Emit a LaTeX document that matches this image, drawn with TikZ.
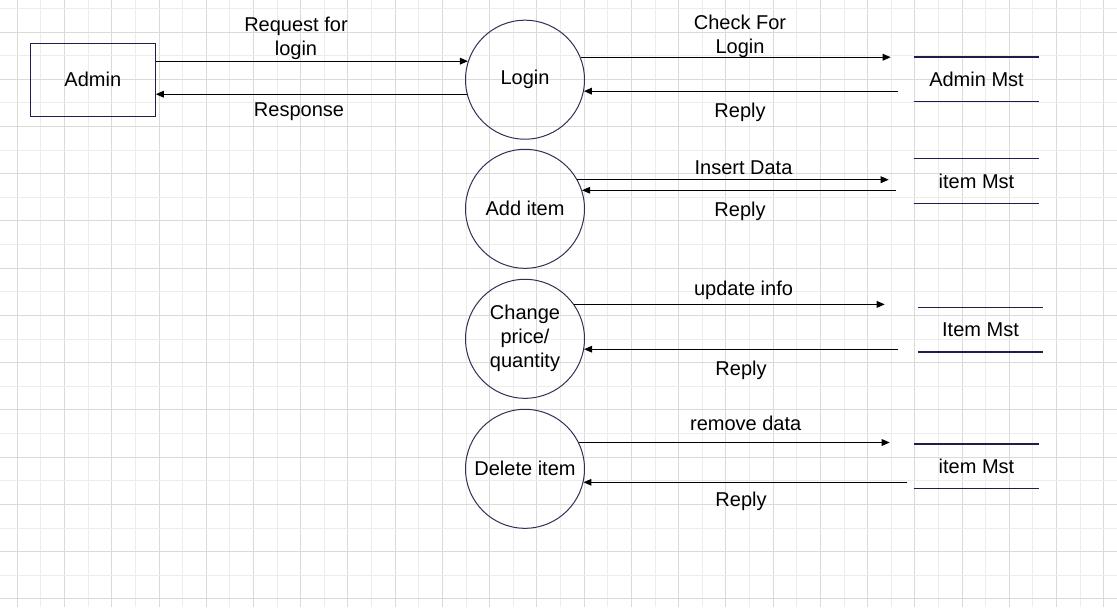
\documentclass[tikz,border=0pt]{standalone}
\usepackage{fontspec}
\setmainfont{Liberation Sans}
\usetikzlibrary{arrows.meta}
\definecolor{gridmajor}{HTML}{DADADA}
\definecolor{gridminor}{HTML}{ECECEC}
\definecolor{navy}{HTML}{1E1E4A}
\begin{document}
\begin{tikzpicture}[x=0.75pt,y=-0.75pt,
    font=\fontsize{15}{18}\selectfont,
    flow/.style={line width=0.75pt,-{Triangle[length=6pt,width=5pt]}},
    process/.style={circle,draw=navy!80!gray,line width=0.75pt,minimum size=89.25pt,inner sep=0pt,align=center},
    entity/.style={rectangle,draw=navy,line width=0.75pt,minimum width=93.75pt,minimum height=54.75pt},
    storeline/.style={draw=navy,line width=1pt},
    store/.style={minimum width=93.75pt,minimum height=33pt,inner sep=0pt,
      append after command={(\tikzlastnode.north west) edge[storeline] (\tikzlastnode.north east)
        (\tikzlastnode.south west) edge[storeline] (\tikzlastnode.south east)}}]
    \useasboundingbox[fill=white] (0,0) rectangle (1117,607);
    \foreach \k in {0,...,46}{
      \ifodd\k \def\gc{gridminor}\else \def\gc{gridmajor}\fi
      \draw[\gc,line width=0.75pt] ({17.3+23.62*\k},0) -- ({17.3+23.62*\k},607);
    }
    \foreach \k in {0,...,25}{
      \ifodd\k \def\gc{gridmajor}\else \def\gc{gridminor}\fi
      \draw[\gc,line width=0.75pt] (0,{8.4+23.62*\k}) -- (1117,{8.4+23.62*\k});
    }
    \node[entity] (admin) at (92.8,79.8) {Admin};
    \node[process] (login) at (525,79.7) {Login};
    \node[process] (additem) at (525,208.8) {Add item};
    \node[process] (change) at (525,338.8) {Change\\price/\\quantity};
    \node[process] (delitem) at (525,468.8) {Delete item};
    \node[store] (adminmst) at (976.5,79.4) {Admin Mst};
    \node[store] (itemmst) at (976.5,181) {item Mst};
    \node[store] (itemmstb) at (980.5,329.7) {Item Mst};
    \node[store] (itemmstc) at (976.5,466.3) {item Mst};
    \draw[flow] (admin.east |- login.162) -- (login.162);
    \draw[flow] (login.194) -- (login.194 -| admin.east);
    \draw[flow,shorten >=17.25pt] (login.22) -- (login.22 -| adminmst.west);
    \draw[flow,shorten <=11.6pt] (login.-11 -| adminmst.west) -- (login.-11);
    \draw[flow,shorten >=18.75pt] (additem.29) -- (additem.29 -| itemmst.west);
    \draw[flow,shorten <=13.2pt] (additem.18 -| itemmst.west) -- (additem.18);
    \draw[flow,shorten >=24.75pt] (change.35) -- (change.35 -| itemmstb.west);
    \draw[flow,shorten <=14.6pt] (change.-10 -| itemmstb.west) -- (change.-10);
    \draw[flow,shorten >=18pt] (delitem.26) -- (delitem.26 -| itemmstc.west);
    \draw[flow,shorten <=4.8pt] (delitem.-13 -| itemmstc.west) -- (delitem.-13);
    \node[align=center] (reqlbl) at (296,38) {Request for\\login};
    \node (resplbl) at (299,112) {Response};
    \node[align=center] (chklbl) at (740,36) {Check For\\Login};
    \node (replya) at (740,112) {Reply};
    \node (inslbl) at (743.5,167.5) {Insert Data};
    \node (replyb) at (740,211) {Reply};
    \node (updlbl) at (743.5,290) {update info};
    \node (replyc) at (741,370.5) {Reply};
    \node (remlbl) at (745.7,423.5) {remove data};
    \node (replyd) at (741,501) {Reply};
\end{tikzpicture}
\end{document}
